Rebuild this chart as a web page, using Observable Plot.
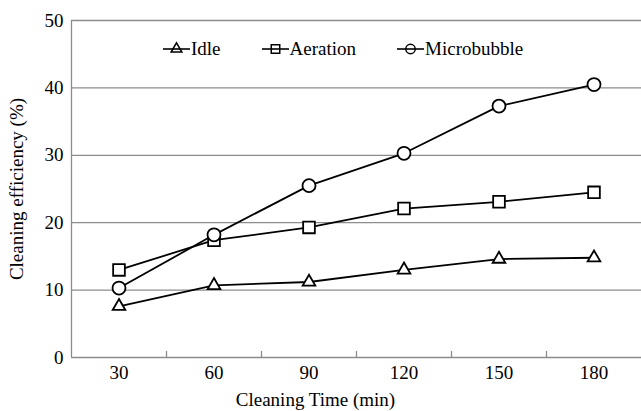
<!DOCTYPE html>
<html>
<head>
<meta charset="utf-8">
<script src="https://cdn.jsdelivr.net/npm/d3@7"></script>
<script src="https://cdn.jsdelivr.net/npm/@observablehq/plot@0.6"></script>
<style>
  html, body { margin: 0; padding: 0; background: #fff; }
  #wrap { position: relative; width: 641px; height: 411px; font-family: "Liberation Serif", "Times New Roman", serif; }
  #legend { position: absolute; top: 37px; left: 163px; display: flex; gap: 41px; font-size: 19px; line-height: 24px; color: #000; }
  #legend .item { display: flex; align-items: center; }
  #legend svg { display: block; margin-right: 1px; }
  svg text { font-family: "Liberation Serif", "Times New Roman", serif; }
</style>
</head>
<body>
<div id="wrap"><div id="legend"></div></div>
<script>
const times = [30, 60, 90, 120, 150, 180];
const idle = [7.6, 10.7, 11.2, 13.0, 14.6, 14.8];
const aeration = [13.0, 17.4, 19.3, 22.1, 23.1, 24.5];
const microbubble = [10.3, 18.2, 25.5, 30.3, 37.3, 40.5];
const yTicks = [0, 10, 20, 30, 40, 50];
const seriesNames = ["Idle", "Aeration", "Microbubble"];
const seriesSymbols = ["triangle", "square", "circle"];
const xTitle = "Cleaning Time (min)";
const yTitle = "Cleaning efficiency (%)";

const serif = "'Liberation Serif', 'Times New Roman', serif";
const seriesValues = [idle, aeration, microbubble];
const data = seriesNames.flatMap((name, i) =>
  times.map((t, j) => ({series: name, time: t, value: seriesValues[i][j]}))
);
const step = times[1] - times[0];
const xDomain = [times[0] - step / 2, times[times.length - 1] + step / 2];
const boundaries = d3.pairs(times).map(([a, b]) => (a + b) / 2);
const symbolR = {triangle: 4.7, square: 6.6, circle: 6.5};

const chart = Plot.plot({
  width: 641,
  height: 411,
  marginLeft: 71,
  marginRight: 0,
  marginTop: 20,
  marginBottom: 54,
  style: {fontFamily: serif, fontSize: "19px", color: "#000", background: "#fff"},
  x: {type: "linear", domain: xDomain},
  y: {domain: [0, 50]},
  marks: [
    Plot.gridY(yTicks.filter(d => d > 0), {stroke: "#8c8c8c", strokeOpacity: 1, strokeWidth: 1.3}),
    Plot.ruleX([xDomain[0]], {stroke: "#8c8c8c", strokeWidth: 1.3}),
    Plot.ruleY([0], {stroke: "#8c8c8c", strokeWidth: 1.3}),
    Plot.axisY(yTicks, {tickSize: 0, tickPadding: 8, fontSize: 19, fontFamily: serif, label: yTitle, labelAnchor: "center", labelArrow: "none", labelOffset: 62}),
    Plot.axisX(times, {tickSize: 0, tickPadding: 8, fontSize: 19, fontFamily: serif, label: null}),
    Plot.axisX(boundaries, {tickSize: -6, stroke: "#8c8c8c", strokeOpacity: 1, strokeWidth: 1.3, tickFormat: () => "", label: null}),
    Plot.text([xTitle], {frameAnchor: "bottom", dy: 42, dx: -41, fontSize: 19, fontFamily: serif, lineAnchor: "middle"}),
    Plot.line(data, {x: "time", y: "value", z: "series", stroke: "#000", strokeWidth: 1.8}),
    ...seriesNames.map((name, i) =>
      Plot.dot(data.filter(d => d.series === name), {
        x: "time", y: "value", symbol: seriesSymbols[i], r: symbolR[seriesSymbols[i]],
        stroke: "#000", fill: "#fff", strokeWidth: 1.8
      })
    )
  ]
});
document.getElementById("wrap").prepend(chart);

// legend
const d3Sym = {triangle: d3.symbolTriangle, square: d3.symbolSquare, circle: d3.symbolCircle};
const legendArea = {triangle: 50, square: 72, circle: 70};
const legend = d3.select("#legend");
seriesNames.forEach((name, i) => {
  const item = legend.append("div").attr("class", "item");
  const svg = item.append("svg").attr("width", 27).attr("height", 16);
  svg.append("line").attr("x1", 0).attr("x2", 27).attr("y1", 8).attr("y2", 8).attr("stroke", "#000").attr("stroke-width", 1.6);
  svg.append("path")
    .attr("d", d3.symbol(d3Sym[seriesSymbols[i]], legendArea[seriesSymbols[i]])())
    .attr("transform", "translate(13.5,8)")
    .attr("fill", "none").attr("stroke", "#000").attr("stroke-width", 1.5);
  item.append("span").text(name);
});
</script>
</body>
</html>
